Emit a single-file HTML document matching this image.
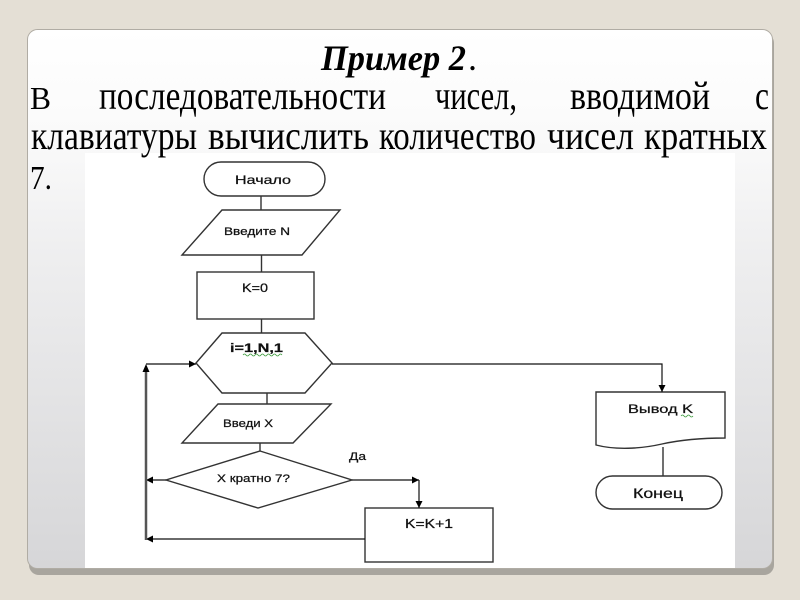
<!DOCTYPE html>
<html>
<head>
<meta charset="utf-8">
<style>
html,body{margin:0;padding:0;background:#e4dfd5;}
svg{display:block;}
.ser{font-family:"Liberation Serif","DejaVu Serif",serif;fill:#000;}
.fc{font-family:"Liberation Sans","DejaVu Sans",sans-serif;fill:#111;stroke:#111;stroke-width:0.25;}
</style>
</head>
<body>
<svg width="800" height="600" viewBox="0 0 800 600" xmlns="http://www.w3.org/2000/svg">
  <defs>
    <linearGradient id="card" x1="0" y1="0" x2="0" y2="1">
      <stop offset="0" stop-color="#ffffff"/>
      <stop offset="0.2" stop-color="#fafafa"/>
      <stop offset="0.4" stop-color="#efeff0"/>
      <stop offset="1" stop-color="#d6d6d8"/>
    </linearGradient>
    <marker id="ah" viewBox="0 0 10 10" refX="10" refY="5" markerWidth="7" markerHeight="7" markerUnits="userSpaceOnUse" orient="auto">
      <path d="M0,0 L10,5 L0,10 Z" fill="#000"/>
    </marker>
  </defs>

  <!-- background -->
  <rect x="0" y="0" width="800" height="600" fill="#e4dfd5"/>

  <!-- card shadow -->
  <rect x="29" y="33" width="745" height="542" rx="10" fill="#a8a59e"/>
  <!-- card -->
  <rect x="27.5" y="29.5" width="745" height="539" rx="10" fill="url(#card)" stroke="#b0aca4" stroke-width="1"/>

  <!-- diagram image area -->
  <rect x="85" y="153" width="650" height="415" fill="#ffffff"/>

  <!-- title -->
  <text class="ser" x="321" y="70" font-size="36" font-weight="bold" font-style="italic" textLength="145" lengthAdjust="spacingAndGlyphs">Пример 2</text>
  <text class="ser" x="468" y="70" font-size="36">.</text>

  <!-- body line 1 -->
  <text class="ser" x="30" y="109" font-size="32" textLength="21" lengthAdjust="spacingAndGlyphs">В</text>
  <text class="ser" x="99" y="109" font-size="40" textLength="287" lengthAdjust="spacingAndGlyphs">последовательности</text>
  <text class="ser" x="435" y="109" font-size="40" textLength="82" lengthAdjust="spacingAndGlyphs">чисел,</text>
  <text class="ser" x="570" y="109" font-size="40" textLength="140" lengthAdjust="spacingAndGlyphs">вводимой</text>
  <text class="ser" x="755" y="109" font-size="40" textLength="14" lengthAdjust="spacingAndGlyphs">с</text>

  <!-- body line 2 -->
  <text class="ser" x="31" y="149" font-size="40" textLength="166" lengthAdjust="spacingAndGlyphs">клавиатуры</text>
  <text class="ser" x="208" y="149" font-size="40" textLength="161" lengthAdjust="spacingAndGlyphs">вычислить</text>
  <text class="ser" x="379" y="149" font-size="40" textLength="157" lengthAdjust="spacingAndGlyphs">количество</text>
  <text class="ser" x="547" y="149" font-size="40" textLength="87" lengthAdjust="spacingAndGlyphs">чисел</text>
  <text class="ser" x="644" y="149" font-size="40" textLength="123" lengthAdjust="spacingAndGlyphs">кратных</text>

  <!-- body line 3 -->
  <text class="ser" x="30" y="189" font-size="34" textLength="22" lengthAdjust="spacingAndGlyphs">7.</text>

  <g fill="none" stroke="#333" stroke-width="1.4">
    <!-- Начало -->
    <rect x="204" y="162" width="121" height="34" rx="17" fill="#fff"/>
    <line x1="261" y1="196" x2="261" y2="210"/>
    <!-- Введите N -->
    <polygon points="222,210 340,210 302,255 182,255" fill="#fff"/>
    <line x1="261.5" y1="255" x2="261.5" y2="272"/>
    <!-- K=0 -->
    <rect x="197" y="272" width="117" height="47" fill="#fff"/>
    <line x1="261.5" y1="319" x2="261.5" y2="333"/>
    <!-- hexagon -->
    <polygon points="222,333 305,333 332,363 305,393 222,393 196,363" fill="#fff"/>
    <line x1="267" y1="393" x2="267" y2="404"/>
    <!-- Введи X -->
    <polygon points="218,404 331,404 293,443 182,443" fill="#fff"/>
    <line x1="260" y1="443" x2="260" y2="451"/>
    <!-- diamond -->
    <polygon points="260,451 352,480 258,508 166,480" fill="#fff"/>
    <!-- K=K+1 -->
    <rect x="365" y="508" width="128" height="54" fill="#fff"/>
    <!-- Вывод K document -->
    <path d="M596,392 L725,392 L725,438 C700,438 680,440 662,444 C640,449 615,450 596,445 Z" fill="#fff"/>
    <line x1="663" y1="447" x2="663" y2="476"/>
    <!-- Конец -->
    <rect x="596" y="476" width="126" height="33" rx="16.5" fill="#fff"/>
  </g>

  <!-- connectors with arrows -->
  <g fill="none" stroke="#111" stroke-width="1.2">
    <polyline points="352,480 419,480" marker-end="url(#ah)"/>
    <polyline points="419,480 419,508" marker-end="url(#ah)"/>
    <polyline points="365,539 146,539" marker-end="url(#ah)"/>
    <polyline points="166,480 146,480" marker-end="url(#ah)"/>
    <polyline points="146,364 196,364" marker-end="url(#ah)"/>
    <polyline points="332,364 662,364 662,392" marker-end="url(#ah)"/>
  </g>
  <line x1="146" y1="540" x2="146" y2="372" stroke="#555" stroke-width="2.5"/>
  <path d="M146,364 L142.5,372 L149.5,372 Z" fill="#000"/>

  <!-- flowchart labels -->
  <text class="fc" x="235" y="184" font-size="12" textLength="56" lengthAdjust="spacingAndGlyphs">Начало</text>
  <text class="fc" x="224" y="235" font-size="11" textLength="66" lengthAdjust="spacingAndGlyphs">Введите N</text>
  <text class="fc" x="242" y="292" font-size="12" textLength="26" lengthAdjust="spacingAndGlyphs">K=0</text>
  <text class="fc" x="230" y="352" font-size="12" font-weight="bold" textLength="53" lengthAdjust="spacingAndGlyphs">i=1,N,1</text>
  <path d="M243,355 q1.5,-2 3,0 t3,0 t3,0 t3,0 t3,0 t3,0 t3,0 t3,0 t3,0 t3,0 t3,0 t3,0 t3,0" fill="none" stroke="#3a9a3a" stroke-width="0.8"/>
  <text class="fc" x="223" y="427" font-size="11" textLength="50" lengthAdjust="spacingAndGlyphs">Введи X</text>
  <text class="fc" x="217" y="482" font-size="11" textLength="73" lengthAdjust="spacingAndGlyphs">X кратно 7?</text>
  <text class="fc" x="349" y="460" font-size="11" textLength="17" lengthAdjust="spacingAndGlyphs">Да</text>
  <text class="fc" x="405" y="528" font-size="13" textLength="48" lengthAdjust="spacingAndGlyphs">K=K+1</text>
  <text class="fc" x="628" y="413" font-size="12" textLength="65" lengthAdjust="spacingAndGlyphs">Вывод K</text>
  <path d="M681,416 q1.5,-2 3,0 t3,0 t3,0 t3,0" fill="none" stroke="#3a9a3a" stroke-width="0.8"/>
  <text class="fc" x="633" y="498" font-size="14" textLength="50" lengthAdjust="spacingAndGlyphs">Конец</text>
</svg>
</body>
</html>
